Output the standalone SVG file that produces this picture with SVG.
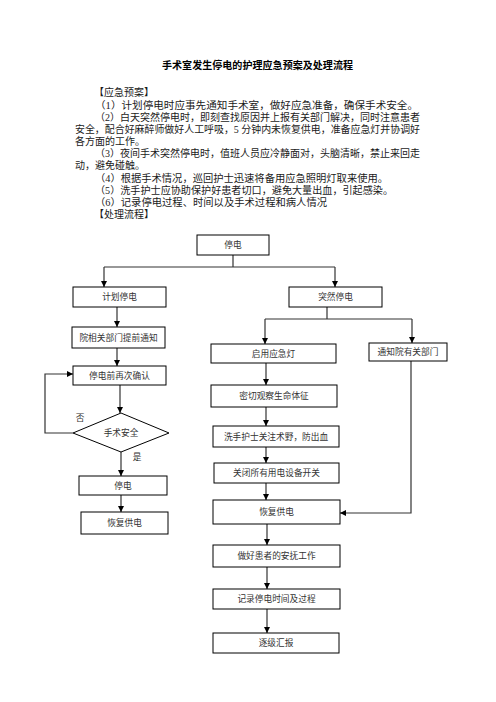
<svg xmlns="http://www.w3.org/2000/svg" width="496" height="702" viewBox="0 0 496 702">
<style>
text{font-family:"Liberation Serif","Noto Sans CJK SC",serif;}
.t{font-family:"Liberation Serif","Noto Sans CJK SC",serif;font-size:10px;fill:#1a1a1a;}
.title{font-family:"Noto Sans CJK SC",sans-serif;font-size:10px;font-weight:bold;fill:#000;}
.box{fill:#fff;stroke:#000;stroke-width:1;}
.n{font-family:"Noto Sans CJK SC",sans-serif;font-size:8.7px;fill:#333;text-anchor:middle;}
.c{fill:none;stroke:#333;stroke-width:1.2;}
</style>
<defs>
<marker id="ah" markerUnits="userSpaceOnUse" markerWidth="6" markerHeight="6" refX="6" refY="3" orient="auto">
<path d="M0,0 L6,3 L0,6 z" fill="#000"/>
</marker>
</defs>
<rect width="496" height="702" fill="#fff"/>
<g id="text">
<text class="title" x="162" y="69" textLength="191" lengthAdjust="spacingAndGlyphs">手术室发生停电的护理应急预案及处理流程</text>
<text class="t" x="94" y="96">【应急预案】</text>
<text class="t" x="95" y="108.5" textLength="323" lengthAdjust="spacingAndGlyphs">（1）计划停电时应事先通知手术室，做好应急准备，确保手术安全。</text>
<text class="t" x="95" y="120.5" textLength="325" lengthAdjust="spacingAndGlyphs">（2）白天突然停电时，即刻查找原因并上报有关部门解决，同时注意患者</text>
<text class="t" x="75" y="132.5" textLength="345" lengthAdjust="spacingAndGlyphs">安全，配合好麻醉师做好人工呼吸，5 分钟内未恢复供电，准备应急灯并协调好</text>
<text class="t" x="75" y="144.5">各方面的工作。</text>
<text class="t" x="95" y="157" textLength="325" lengthAdjust="spacingAndGlyphs">（3）夜间手术突然停电时，值班人员应冷静面对，头脑清晰，禁止来回走</text>
<text class="t" x="75" y="169">动，避免碰触。</text>
<text class="t" x="95" y="181.5" textLength="293" lengthAdjust="spacingAndGlyphs">（4）根据手术情况，巡回护士迅速将备用应急照明灯取来使用。</text>
<text class="t" x="95" y="193.5" textLength="298" lengthAdjust="spacingAndGlyphs">（5）洗手护士应协助保护好患者切口，避免大量出血，引起感染。</text>
<text class="t" x="95" y="205.5" textLength="232" lengthAdjust="spacingAndGlyphs">（6）记录停电过程、时间以及手术过程和病人情况</text>
<text class="t" x="94" y="217.5">【处理流程】</text>
</g>
<g id="connectors">
<path class="c" d="M233,255 V267 M104,267 H335"/>
<path class="c" d="M104,267 V287" marker-end="url(#ah)"/>
<path class="c" d="M335,267 V287" marker-end="url(#ah)"/>
<path class="c" d="M117,307 V327" marker-end="url(#ah)"/>
<path class="c" d="M117,348 V366" marker-end="url(#ah)"/>
<path class="c" d="M120,385 V413" marker-end="url(#ah)"/>
<path class="c" d="M73,433 H45 V374 H73" marker-end="url(#ah)"/>
<path class="c" d="M121,452 V476" marker-end="url(#ah)"/>
<path class="c" d="M121,495 V512" marker-end="url(#ah)"/>
<path class="c" d="M327,307 V319 M265,319 H412"/>
<path class="c" d="M265,319 V344" marker-end="url(#ah)"/>
<path class="c" d="M412,319 V343" marker-end="url(#ah)"/>
<path class="c" d="M266,363 V385" marker-end="url(#ah)"/>
<path class="c" d="M266,407 V426" marker-end="url(#ah)"/>
<path class="c" d="M266,447 V463" marker-end="url(#ah)"/>
<path class="c" d="M266,483 V500" marker-end="url(#ah)"/>
<path class="c" d="M411,361 V513 H340" marker-end="url(#ah)"/>
<path class="c" d="M267,524 V545" marker-end="url(#ah)"/>
<path class="c" d="M267,567 V589" marker-end="url(#ah)"/>
<path class="c" d="M267,609 V633" marker-end="url(#ah)"/>
</g>
<g id="n-top"><rect class="box" x="197" y="235" width="72" height="20"/><text class="n" x="233" y="248">停电</text></g>
<g id="n-plan"><rect class="box" x="73" y="287" width="93" height="20"/><text class="n" x="119.5" y="300">计划停电</text></g>
<g id="n-sudden"><rect class="box" x="289" y="287" width="93" height="20"/><text class="n" x="335.5" y="300">突然停电</text></g>
<g id="n-notify-adv"><rect class="box" x="72" y="327" width="93" height="21"/><text class="n" x="118.5" y="340.5">院相关部门提前通知</text></g>
<g id="n-confirm"><rect class="box" x="73" y="366" width="93" height="19"/><text class="n" x="119.5" y="378.5">停电前再次确认</text></g>
<g id="n-safe"><path class="box" d="M121,413 L169,433 L121,452 L73,433 Z"/><text class="n" x="121" y="436">手术安全</text></g>
<text class="n" x="80" y="421">否</text>
<text class="n" x="137" y="460">是</text>
<g id="n-off"><rect class="box" x="79" y="476" width="88" height="19"/><text class="n" x="123" y="488.5">停电</text></g>
<g id="n-restore-l"><rect class="box" x="81" y="512" width="87" height="22"/><text class="n" x="124.5" y="526">恢复供电</text></g>
<g id="n-lamp"><rect class="box" x="211" y="344" width="125" height="19"/><text class="n" x="273.5" y="356.5">启用应急灯</text></g>
<g id="n-notify"><rect class="box" x="369" y="343" width="78" height="18"/><text class="n" x="408" y="355">通知院有关部门</text></g>
<g id="n-observe"><rect class="box" x="211" y="385" width="126" height="22"/><text class="n" x="274" y="399">密切观察生命体征</text></g>
<g id="n-nurse"><rect class="box" x="213" y="426" width="126" height="21"/><text class="n" x="276" y="439.5">洗手护士关注术野，防出血</text></g>
<g id="n-switch"><rect class="box" x="214" y="463" width="125" height="20"/><text class="n" x="276.5" y="476">关闭所有用电设备开关</text></g>
<g id="n-restore-r"><rect class="box" x="213" y="500" width="127" height="24"/><text class="n" x="276.5" y="515">恢复供电</text></g>
<g id="n-comfort"><rect class="box" x="213" y="545" width="127" height="22"/><text class="n" x="276.5" y="559">做好患者的安抚工作</text></g>
<g id="n-record"><rect class="box" x="213" y="589" width="127" height="20"/><text class="n" x="276.5" y="602">记录停电时间及过程</text></g>
<g id="n-report"><rect class="box" x="213" y="633" width="126" height="20"/><text class="n" x="276" y="646">逐级汇报</text></g>
</svg>
